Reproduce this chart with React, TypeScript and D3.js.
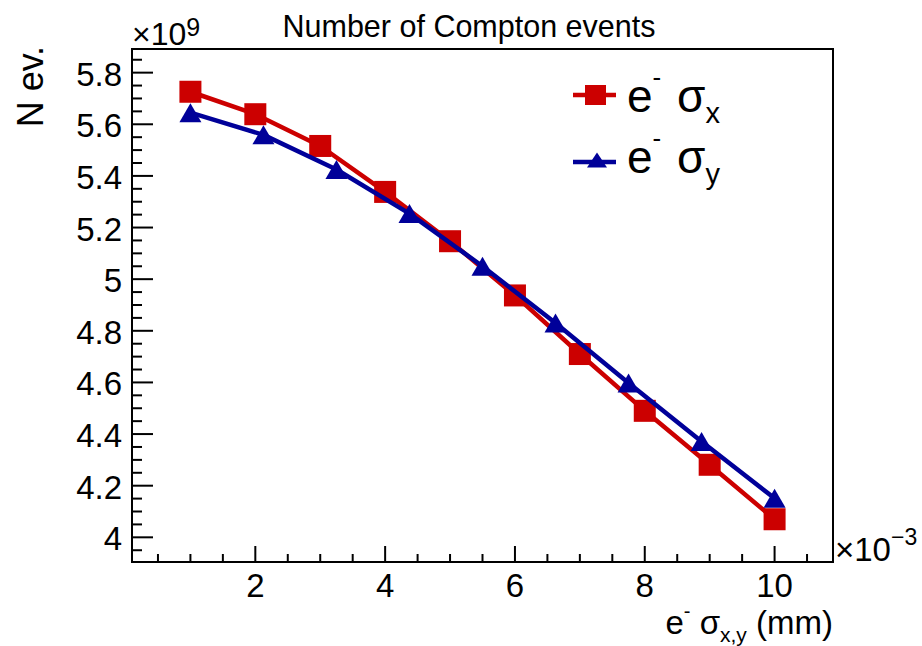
import React from 'react';
import * as d3 from 'd3';

// e- sigma_x scan (x in units of 1e-3 mm, N in units of 1e9)
const sigmaXPos = [1, 2, 3, 4, 5, 6, 7, 8, 9, 10];
const nevSigmaX = [5.726, 5.639, 5.516, 5.338, 5.147, 4.937, 4.71, 4.49, 4.281, 4.07];
// e- sigma_y scan
const sigmaYPos = [1, 2.125, 3.25, 4.375, 5.5, 6.625, 7.75, 8.875, 10];
const nevSigmaY = [5.645, 5.559, 5.425, 5.254, 5.05, 4.83, 4.598, 4.371, 4.151];

const xTickValues = [2, 4, 6, 8, 10];
const xTickLabels = ['2', '4', '6', '8', '10'];
const yTickValues = [4, 4.2, 4.4, 4.6, 4.8, 5, 5.2, 5.4, 5.6, 5.8];
const yTickLabels = ['4', '4.2', '4.4', '4.6', '4.8', '5', '5.2', '5.4', '5.6', '5.8'];

const RED = '#cc0000';
const BLUE = '#000099';
const FONT = '"Liberation Sans", Arial, Helvetica, sans-serif';

const W = 922;
const H = 646;
const L = 132;
const R = 833;
const T = 49;
const B = 562;

function padded(lo: number, hi: number): [number, number] {
  const r = hi - lo;
  return [lo - 0.1 * r, hi + 0.1 * r];
}

export default function App() {
  const xAll = [...sigmaXPos, ...sigmaYPos];
  const yAll = [...nevSigmaX, ...nevSigmaY];
  const x = d3.scaleLinear().domain(padded(d3.min(xAll)!, d3.max(xAll)!)).range([L, R]);
  const y = d3.scaleLinear().domain(padded(d3.min(yAll)!, d3.max(yAll)!)).range([B, T]);

  const [x0, x1] = x.domain();
  const [y0, y1] = y.domain();
  const xMinor = d3.range(Math.ceil(x0 / 0.5) * 0.5, x1, 0.5).filter((v) => !xTickValues.some((t) => Math.abs(t - v) < 1e-6));
  const yMinor = d3.range(Math.ceil(y0 / 0.05 - 1e-6) * 0.05, y1, 0.05).filter((v) => !yTickValues.some((t) => Math.abs(t - v) < 1e-6));

  const line = d3.line<[number, number]>().x((d) => x(d[0])).y((d) => y(d[1]));
  const redPts: [number, number][] = sigmaXPos.map((v, i) => [v, nevSigmaX[i]]);
  const bluePts: [number, number][] = sigmaYPos.map((v, i) => [v, nevSigmaY[i]]);

  const sq = 22;
  const triW = 22;
  const triH = 19;
  const tri = (cx: number, cy: number, w = triW, h = triH) =>
    `M${cx - w / 2},${cy + h / 2}L${cx + w / 2},${cy + h / 2}L${cx},${cy - h / 2}Z`;

  return (
    <svg width={W} height={H} style={{ position: 'absolute', left: 0, top: 0, background: '#fff' }} fontFamily={FONT}>
      <rect x={0} y={0} width={W} height={H} fill="#fff" />
      {/* title */}
      <text x={469} y={37} fontSize={30.5} textAnchor="middle" fill="#000">Number of Compton events</text>

      {/* frame */}
      <rect x={L} y={T} width={R - L} height={B - T} fill="none" stroke="#000" strokeWidth={2} />

      {/* x ticks */}
      {xTickValues.map((v) => (
        <line key={'xt' + v} x1={x(v)} x2={x(v)} y1={B} y2={B - 16} stroke="#000" strokeWidth={2} />
      ))}
      {xMinor.map((v) => (
        <line key={'xm' + v} x1={x(v)} x2={x(v)} y1={B} y2={B - 8} stroke="#000" strokeWidth={2} />
      ))}
      {xTickValues.map((v, i) => (
        <text key={'xl' + v} x={x(v)} y={597} fontSize={33} textAnchor="middle" fill="#000">{xTickLabels[i]}</text>
      ))}

      {/* y ticks */}
      {yTickValues.map((v) => (
        <line key={'yt' + v} x1={L} x2={L + 21} y1={y(v)} y2={y(v)} stroke="#000" strokeWidth={2} />
      ))}
      {yMinor.map((v) => (
        <line key={'ym' + v.toFixed(2)} x1={L} x2={L + 10} y1={y(v)} y2={y(v)} stroke="#000" strokeWidth={2} />
      ))}
      {yTickValues.map((v, i) => (
        <text key={'yl' + v} x={122} y={y(v) + 13} fontSize={33} textAnchor="end" fill="#000">{yTickLabels[i]}</text>
      ))}

      {/* exponents */}
      <text x={132} y={45} fontSize={32} fill="#000">
        ×10<tspan fontSize={25} dy={-9}>9</tspan>
      </text>
      <text x={835} y={561} fontSize={33} fill="#000">
        ×10<tspan fontSize={23} dy={-16}>−3</tspan>
      </text>

      {/* axis titles */}
      <text x={833} y={634} fontSize={33} textAnchor="end" fill="#000">
        e<tspan fontSize={20} dy={-16}>-</tspan>
        <tspan dy={16}> σ</tspan>
        <tspan fontSize={21} dy={8}>x,y</tspan>
        <tspan dy={-8}> (mm)</tspan>
      </text>
      <text transform="translate(43,46) rotate(-90)" x={0} y={0} fontSize={36} textAnchor="end" fill="#000">N ev.</text>

      {/* data */}
      <path d={line(redPts)!} fill="none" stroke={RED} strokeWidth={4.5} strokeLinejoin="round" />
      {redPts.map((p, i) => (
        <rect key={'rp' + i} x={x(p[0]) - sq / 2} y={y(p[1]) - sq / 2} width={sq} height={sq} fill={RED} />
      ))}
      <path d={line(bluePts)!} fill="none" stroke={BLUE} strokeWidth={4.5} strokeLinejoin="round" />
      {bluePts.map((p, i) => (
        <path key={'bp' + i} d={tri(x(p[0]), y(p[1]))} fill={BLUE} />
      ))}

      {/* legend */}
      <line x1={573} x2={616} y1={95} y2={95} stroke={RED} strokeWidth={4.5} />
      <rect x={585} y={85} width={21} height={20} fill={RED} />
      <text x={627} y={112} fontSize={46} fill="#000">
        e<tspan fontSize={26} dy={-26}>-</tspan>
        <tspan x={677} dy={26}>σ</tspan>
        <tspan fontSize={29} dy={11}>x</tspan>
      </text>

      <line x1={573} x2={616} y1={162} y2={162} stroke={BLUE} strokeWidth={4.5} />
      <path d={tri(597, 160, 20, 15)} fill={BLUE} />
      <text x={627} y={173} fontSize={46} fill="#000">
        e<tspan fontSize={26} dy={-26}>-</tspan>
        <tspan x={677} dy={26}>σ</tspan>
        <tspan fontSize={29} dy={11}>y</tspan>
      </text>
    </svg>
  );
}
